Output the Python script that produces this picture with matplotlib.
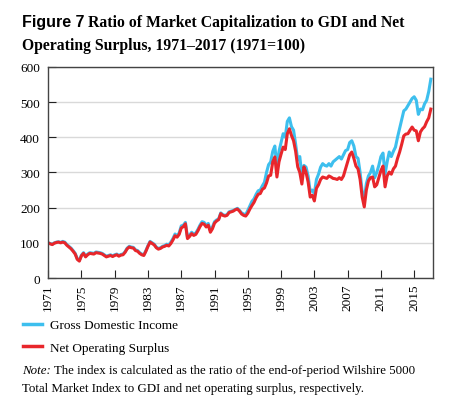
import matplotlib
matplotlib.use('Agg')
import matplotlib.pyplot as plt
from matplotlib.lines import Line2D
import numpy as np

# quarterly values, 1971Q1 .. 2017Q1 (1971=100)
gdi = [100, 98, 96, 100,   102, 103, 101, 104,   102, 95, 90, 85,   78, 70, 55, 50,
       65, 72, 62, 68,     72, 71, 70, 74,       73, 72, 70, 66,    62, 64, 66, 63,
       66, 68, 64, 67,     68, 75, 85, 90,       88, 87, 80, 78,    72, 68, 66, 78,
       92, 104, 100, 96,   88, 84, 86, 90,       92, 96, 94, 102,   112, 125, 120, 128,
       148, 150, 158, 115, 122, 130, 125, 128,   138, 150, 160, 158, 150, 155, 135, 145,
       160, 165, 168, 185, 180, 178, 180, 188,   190, 192, 195, 198, 192, 185, 182, 180,
       192, 205, 218, 225, 238, 248, 250, 262,   272, 300, 322, 330, 360, 375, 315, 360,
       385, 410, 400, 445, 455, 430, 420, 380,   335, 345, 290, 320, 315, 290, 245, 250,
       240, 280, 295, 315, 325, 320, 318, 325,   318, 330, 335, 340, 345, 338, 350, 362,
       365, 385, 390, 375, 345, 340, 300, 245,   225, 268, 290, 300, 318, 285, 300, 320,
       345, 355, 295, 330, 358, 345, 360, 372,   400, 425, 450, 475, 480, 490, 500, 510,
       515, 505, 465, 480, 478, 495, 505, 530,   565]
nos = [100, 97, 95, 99,    101, 102, 100, 102,   100, 93, 88, 83,   76, 68, 53, 48,
       63, 70, 60, 66,     70, 69, 68, 72,       71, 70, 68, 64,    60, 62, 64, 61,
       64, 66, 62, 65,     66, 73, 83, 88,       86, 85, 78, 76,    70, 66, 64, 76,
       90, 102, 98, 94,    86, 82, 84, 88,       90, 93, 91, 98,    108, 120, 116, 124,
       142, 146, 154, 112, 118, 126, 121, 124,   134, 146, 155, 153, 145, 150, 130, 140,
       156, 162, 166, 183, 178, 176, 178, 186,   188, 190, 194, 196, 190, 182, 178, 176,
       184, 196, 206, 215, 228, 238, 240, 252,   256, 270, 290, 292, 330, 344, 287, 330,
       352, 372, 365, 410, 424, 405, 390, 360,   316, 300, 267, 316, 300, 273, 230, 235,
       219, 255, 265, 280, 287, 285, 283, 290,   287, 283, 282, 280, 285, 280, 290, 310,
       330, 350, 358, 340, 318, 310, 280, 230,   202, 250, 276, 285, 287, 259, 265, 285,
       305, 318, 259, 290, 301, 295, 310, 318,   340, 358, 380, 404, 409, 410, 420, 429,
       420, 418, 390, 415, 424, 430, 444, 455,   480]
quarters = 1971 + np.arange(len(gdi)) / 4.0
year_ticks = list(range(1971, 2016, 4))
y_ticks = [0, 100, 200, 300, 400, 500, 600]

blue = '#3dbfee'
red = '#e8262b'
serif = 'Liberation Serif'

fig = plt.figure(figsize=(4.5, 4.1), dpi=100)
ax = fig.add_axes([0.107, 0.3195, 0.855, 0.515])

ax.plot(quarters, gdi, color=blue, lw=2.2, solid_joinstyle='round')
ax.plot(quarters, nos, color=red, lw=2.2, solid_joinstyle='round')

ax.set_xlim(1971, 2017.25)
ax.set_ylim(0, 600)
ax.set_xticks(year_ticks)
ax.set_yticks(y_ticks)
ax.set_xticklabels([str(y) for y in year_ticks], rotation=90, fontfamily=serif, fontsize=9.5)
ax.set_yticklabels([str(v) for v in y_ticks], fontfamily=serif, fontsize=9.5)
ax.tick_params(axis='both', direction='in', length=6, width=0.8, color='#222222')
ax.tick_params(axis='x', pad=4)
ax.tick_params(axis='y', pad=6)
ax.grid(axis='y', color='#d9d9d9', lw=1.0)
ax.set_axisbelow(True)
for s in ax.spines.values():
    s.set_color('#444444')
    s.set_linewidth(1.0)

# title
t1 = fig.text(0.049, 0.935, 'Figure 7', fontfamily='Liberation Sans', fontweight='bold',
              fontsize=11.5, va='baseline')
fig.canvas.draw()
bb = t1.get_window_extent()
fig.text(bb.x1 / fig.bbox.width + 0.008, 0.935, 'Ratio of Market Capitalization to GDI and Net',
         fontfamily=serif, fontweight='bold', fontsize=11.3, va='baseline')
fig.text(0.049, 0.878, 'Operating Surplus, 1971\u20132017 (1971=100)',
         fontfamily=serif, fontweight='bold', fontsize=11.3, va='baseline')

# legend
handles = [Line2D([], [], color=blue, lw=2.5), Line2D([], [], color=red, lw=2.5)]
fig.legend(handles, ['Gross Domestic Income', 'Net Operating Surplus'],
           loc='upper left', bbox_to_anchor=(0.04, 0.232), frameon=False,
           prop={'family': serif, 'size': 9.5}, handlelength=1.4, handletextpad=0.6,
           labelspacing=0.75, borderaxespad=0)

# note
n1 = fig.text(0.049, 0.087, 'Note:', fontfamily=serif, fontstyle='italic', fontsize=9.3,
              va='baseline')
fig.canvas.draw()
nb = n1.get_window_extent()
fig.text(nb.x1 / fig.bbox.width + 0.006, 0.087,
         'The index is calculated as the ratio of the end-of-period Wilshire 5000',
         fontfamily=serif, fontsize=9.3, va='baseline')
fig.text(0.049, 0.045, 'Total Market Index to GDI and net operating surplus, respectively.',
         fontfamily=serif, fontsize=9.3, va='baseline')

fig.savefig('out.png', dpi=100)
